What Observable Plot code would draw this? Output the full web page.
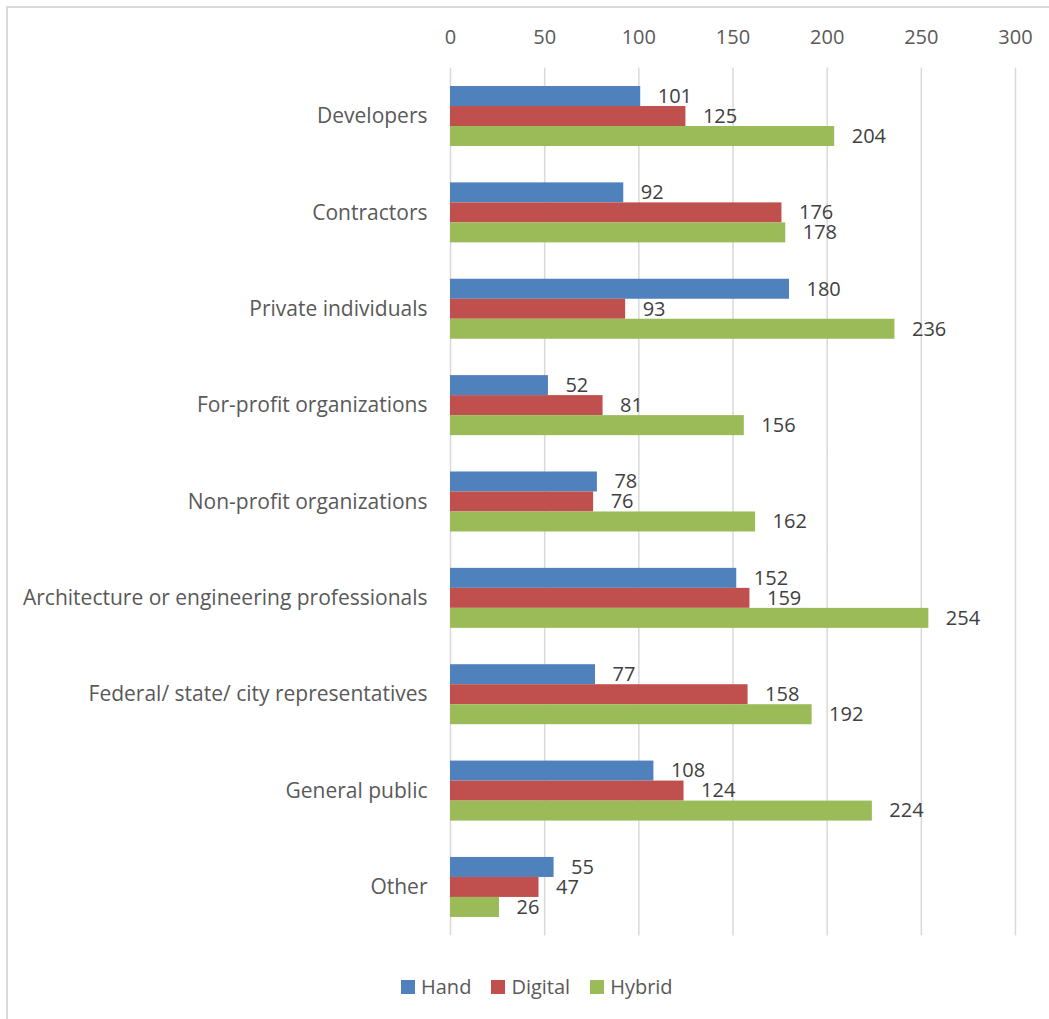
<!DOCTYPE html>
<html>
<head>
<meta charset="utf-8">
<script src="https://cdn.jsdelivr.net/npm/d3@7"></script>
<script src="https://cdn.jsdelivr.net/npm/@observablehq/plot@0.6"></script>
<style>
  html, body { margin: 0; padding: 0; background: #fff; }
  body { width: 1049px; height: 1019px; overflow: hidden; position: relative; font-family: "Open Sans", sans-serif; }
  #frame { position: absolute; left: 6px; top: 6px; width: 1200px; height: 1200px; border-left: 2px solid #d9d9d9; border-top: 2px solid #d9d9d9; }
  #chart { position: absolute; left: 8px; top: 8px; }
  #legend { position: absolute; left: 401px; top: 970px; }
  .lg-swatches { justify-content: flex-start !important; min-height: 33px !important; margin: 0 !important; }
  .lg-swatch { margin-right: 20px !important; color: #595959; }
  .lg-swatch > svg { margin-right: 6px !important; }
</style>
</head>
<body>
<div id="frame"></div>
<div id="chart"></div>
<div id="legend"></div>
<script>
const categories = ["Developers", "Contractors", "Private individuals", "For-profit organizations", "Non-profit organizations", "Architecture or engineering professionals", "Federal/ state/ city representatives", "General public", "Other"];
const seriesNames = ["Hand", "Digital", "Hybrid"];
const hand = [101, 92, 180, 52, 78, 152, 77, 108, 55];
const digital = [125, 176, 93, 81, 76, 159, 158, 124, 47];
const hybrid = [204, 178, 236, 156, 162, 254, 192, 224, 26];
const xTicks = [0, 50, 100, 150, 200, 250, 300];
const colors = ["#4F81BD", "#C0504D", "#9BBB59"];

const seriesValues = [hand, digital, hybrid];
const data = [];
categories.forEach((c, i) => {
  seriesNames.forEach((s, j) => data.push({category: c, series: s, value: seriesValues[j][i]}));
});

const chart = Plot.plot({
  width: 1041,
  height: 960,
  marginLeft: 442,
  marginRight: 34,
  marginTop: 60,
  marginBottom: 33,
  style: {fontFamily: "'Open Sans', sans-serif", background: "transparent", overflow: "visible"},
  x: {domain: [0, 300]},
  y: {domain: seriesNames, padding: 0, axis: null},
  fy: {domain: categories, paddingInner: 0.377, paddingOuter: 0.187, label: null, round: false},
  color: {domain: seriesNames, range: colors},
  marks: [
    Plot.ruleX(xTicks, {stroke: "#d9d9d9", strokeWidth: 1.5, insetTop: -18.4, insetBottom: -18.4}),
    Plot.barX(data, {x: "value", y: "series", fy: "category", fill: "series", insetTop: 0, insetBottom: 0}),
    Plot.text(data, {x: "value", y: "series", fy: "category", text: d => String(d.value), dx: 17, textAnchor: "start", fontSize: 20, fill: "#404040"}),
    Plot.axisX({anchor: "top", ticks: xTicks, tickSize: 0, tickPadding: 43, fontSize: 20, color: "#595959", label: null}),
    Plot.axisFy({anchor: "left", tickSize: 0, tickPadding: 23, fontSize: 21, color: "#595959", label: null})
  ]
});
document.getElementById("chart").appendChild(chart);

const legend = Plot.legend({
  color: {domain: seriesNames, range: colors},
  legend: "swatches",
  swatchSize: 14,
  className: "lg",
  style: {fontSize: "20px", fontFamily: "'Open Sans', sans-serif", color: "#595959"}
});
document.getElementById("legend").appendChild(legend);
</script>
</body>
</html>
